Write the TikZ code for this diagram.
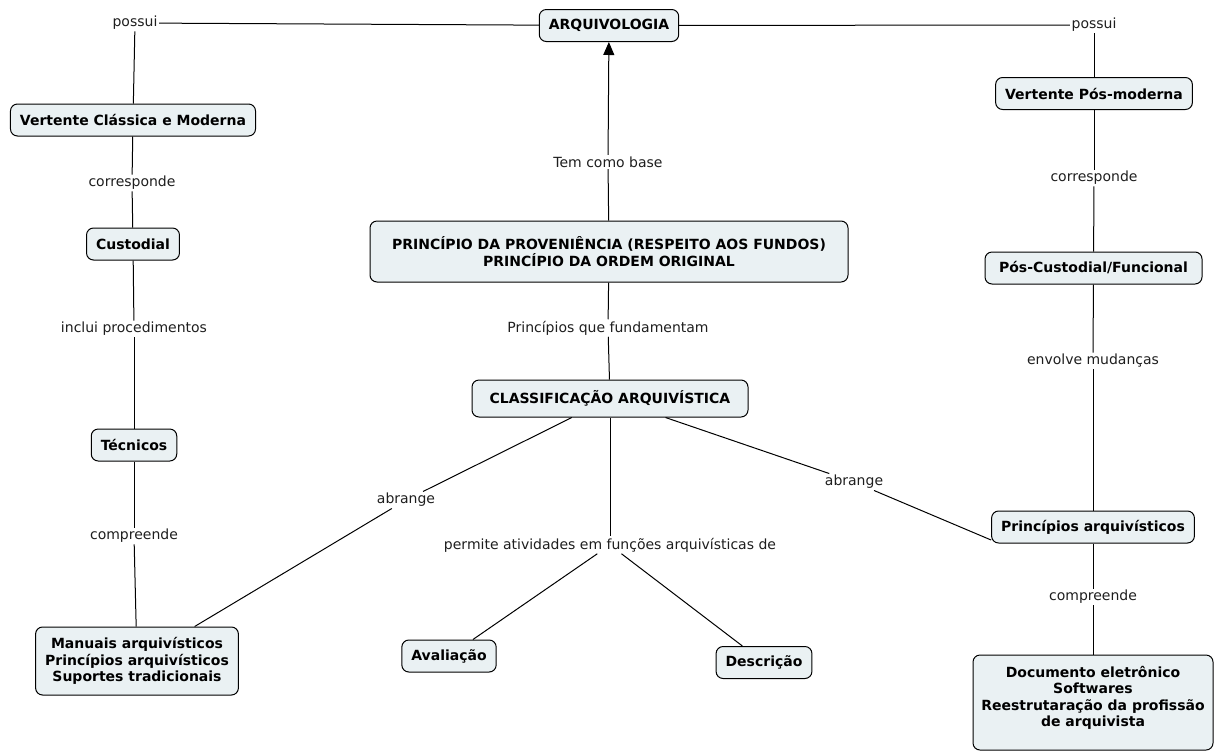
\documentclass[tikz,border=0pt]{standalone}
\usepackage{fontspec}
\setmainfont{DejaVu Sans}
\usepackage{tikz}
\usetikzlibrary{arrows}
\usetikzlibrary{arrows.meta}
\usetikzlibrary{calc}

\definecolor{boxfill}{RGB}{234,241,243}
\definecolor{linkgray}{RGB}{30,30,30}

\begin{document}
\begin{tikzpicture}[x=1pt,y=-1pt,
  concept/.style={draw,rectangle,rounded corners=7pt,fill=boxfill,line width=1pt,
    font=\fontsize{14}{16.5}\selectfont\bfseries,inner xsep=9.5pt,inner ysep=2pt,
    minimum height=32pt,align=center},
  linking/.style={font=\fontsize{14}{16.5}\selectfont,inner sep=1.5pt,text=linkgray}]

  \useasboundingbox (0,0) rectangle (1214,753);

  \node [concept] (arq) at (609,25.5) {ARQUIVOLOGIA};
  \node [linking] (possui_l) at (135,23) {possui};
  \node [linking] (possui_r) at (1094,25) {possui};

  \node [concept] (classica) at (133,120) {Vertente Clássica e Moderna};
  \node [linking] (corr_l) at (132,183) {corresponde};
  \node [concept] (custodial) at (133,244) {Custodial};
  \node [linking] (inclui) at (134,329) {inclui procedimentos};
  \node [concept] (tecnicos) at (134,445) {Técnicos};
  \node [linking] (comp_l) at (134,536) {compreende};
  \node [concept,minimum height=68pt] (manuais) at (137,661)
    {Manuais arquivísticos\\Princípios arquivísticos\\Suportes tradicionais};

  \node [linking] (base) at (608,162) {Tem como base};
  \node [concept,minimum height=61pt,minimum width=478pt] (proven) at (609,251.5)
    {PRINCÍPIO DA PROVENIÊNCIA (RESPEITO AOS FUNDOS)\\PRINCÍPIO DA ORDEM ORIGINAL};
  \node [linking] (fundam) at (608,328) {Princípios que fundamentam};
  \node [concept,minimum height=37pt,minimum width=276pt] (classif) at (610,398.5) {CLASSIFICAÇÃO ARQUIVÍSTICA};
  \node [linking] (abr_l) at (406,500) {abrange};
  \node [linking] (abr_r) at (854,482) {abrange};
  \node [linking] (permite) at (610,545) {permite atividades em funções arquivísticas de};
  \node [concept] (avaliacao) at (449,656) {Avaliação};
  \node [concept] (descricao) at (764,662.5) {Descrição};

  \node [concept] (posmod) at (1094,93.5) {Vertente Pós-moderna};
  \node [linking] (corr_r) at (1094,178) {corresponde};
  \node [concept,minimum width=217pt] (poscust) at (1093.5,268) {Pós-Custodial/Funcional};
  \node [linking] (envolve) at (1093,361) {envolve mudanças};
  \node [concept] (principios) at (1093,527) {Princípios arquivísticos};
  \node [linking] (comp_r) at (1093,597) {compreende};
  \node [concept,minimum height=95pt,minimum width=240pt,inner xsep=4pt] (documento) at (1093,702.5)
    {Documento eletrônico\\Softwares\\Reestrutaração da profissão\\de arquivista\\[-4pt]};

  \path [draw,line width=1pt]
    (possui_l) edge (arq)
    (possui_l) edge (classica)
    (classica) edge (corr_l)
    (corr_l) edge (custodial)
    (custodial) edge (inclui)
    (inclui) edge (tecnicos)
    (tecnicos) edge (comp_l)
    (comp_l) edge (manuais);

  \path [draw,line width=1pt]
    (arq) edge (possui_r)
    (possui_r) edge (posmod)
    (posmod) edge (corr_r)
    (corr_r) edge (poscust)
    (poscust) edge (envolve)
    (envolve) edge (principios)
    (principios) edge (comp_r)
    (comp_r) edge (documento);

  \path [draw,line width=1pt]
    (proven) edge (base)
    (proven) edge (fundam)
    (fundam) edge (classif)
    (classif) edge (abr_l)
    (abr_l) edge (manuais)
    (classif) edge (abr_r)
    (abr_r) edge ([yshift=-13pt]principios.west)
    (classif) edge (permite)
    (permite) edge (avaliacao)
    (permite) edge (descricao);

  \path [draw,line width=1pt,->,>={Triangle[length=13pt,width=11pt]}]
    (base) edge (arq);

\end{tikzpicture}
\end{document}
